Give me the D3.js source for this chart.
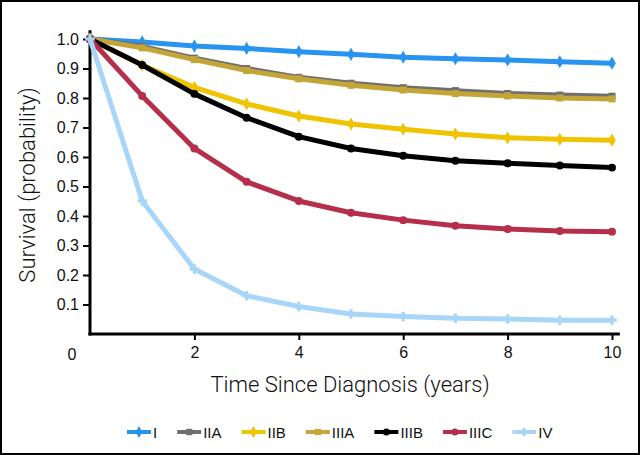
<!DOCTYPE html>
<html>
<head>
<meta charset="utf-8">
<script src="https://cdn.jsdelivr.net/npm/d3@7"></script>
<style>
  body { margin: 0; background: #fff; }
  svg { display: block; font-family: "Liberation Sans", Arial, sans-serif; }
</style>
</head>
<body>
<div id="chart"></div>
<script>
const years = [0, 1, 2, 3, 4, 5, 6, 7, 8, 9, 10];
const stages = ["I", "IIA", "IIB", "IIIA", "IIIB", "IIIC", "IV"];
const stageI = [1.0, 0.99, 0.976, 0.968, 0.957, 0.948, 0.938, 0.933, 0.929, 0.923, 0.918];
const stageIIA = [1.0, 0.975, 0.935, 0.90, 0.87, 0.85, 0.835, 0.825, 0.815, 0.81, 0.806];
const stageIIB = [1.0, 0.912, 0.836, 0.78, 0.739, 0.712, 0.694, 0.678, 0.665, 0.66, 0.657];
const stageIIIA = [1.0, 0.97, 0.93, 0.893, 0.865, 0.843, 0.827, 0.815, 0.807, 0.80, 0.797];
const stageIIIB = [1.0, 0.912, 0.814, 0.733, 0.669, 0.629, 0.604, 0.587, 0.579, 0.571, 0.564];
const stageIIIC = [1.0, 0.807, 0.629, 0.516, 0.451, 0.411, 0.386, 0.367, 0.356, 0.349, 0.347];
const stageIV = [1.0, 0.451, 0.220, 0.130, 0.093, 0.068, 0.059, 0.053, 0.051, 0.047, 0.047];
const yTicks = [0.1, 0.2, 0.3, 0.4, 0.5, 0.6, 0.7, 0.8, 0.9, 1.0];
const xTicks = [2, 4, 6, 8, 10];

const series = [stageI, stageIIA, stageIIB, stageIIIA, stageIIIB, stageIIIC, stageIV];
const colors = ["#2894ef", "#6f6f6f", "#f0c300", "#c3a637", "#000000", "#b52f4b", "#a8d6f8"];
const symbols = [d3.symbolDiamond, d3.symbolSquare, d3.symbolDiamond, d3.symbolSquare,
                 d3.symbolCircle, d3.symbolCircle, d3.symbolCross];

const width = 640, height = 455;

const svg = d3.select("#chart").append("svg")
    .attr("width", width)
    .attr("height", height);

// frame
svg.append("rect")
    .attr("x", 1).attr("y", 1)
    .attr("width", width - 2).attr("height", height - 2)
    .attr("fill", "none").attr("stroke", "#000").attr("stroke-width", 2);

const x = d3.scaleLinear().domain([0, 10]).range([90, 612]);
const y = d3.scaleLinear().domain([0, 1]).range([334, 39]);

// axes
const yAxis = svg.append("g")
    .attr("transform", "translate(90,0)")
    .call(d3.axisLeft(y).tickValues(yTicks).tickFormat(d3.format(".1f")).tickSize(7).tickPadding(4));
const xAxis = svg.append("g")
    .attr("transform", "translate(0,334)")
    .call(d3.axisBottom(x).tickValues(xTicks).tickFormat(d3.format("d")).tickSize(6).tickPadding(7));

[yAxis, xAxis].forEach(g => {
    g.select(".domain").remove();
    g.selectAll(".tick line").attr("stroke", "#000").attr("stroke-width", 2);
    g.selectAll(".tick text").attr("font-size", 16).attr("fill", "#111")
        .attr("font-family", "'Liberation Sans', Arial, sans-serif");
});

svg.append("line")
    .attr("x1", 90).attr("x2", 90)
    .attr("y1", y(1.03)).attr("y2", 335.5)
    .attr("stroke", "#000").attr("stroke-width", 3);
svg.append("line")
    .attr("x1", 88.5).attr("x2", x(10.15))
    .attr("y1", 334).attr("y2", 334)
    .attr("stroke", "#000").attr("stroke-width", 3);

// origin label
svg.append("text")
    .attr("x", 72).attr("y", 360)
    .attr("text-anchor", "middle")
    .attr("font-size", 16).attr("fill", "#111")
    .text("0");

// axis titles
svg.append("text")
    .attr("x", 350).attr("y", 392)
    .attr("text-anchor", "middle")
    .attr("font-family", "Roboto, sans-serif").attr("font-weight", 300)
    .attr("font-size", 22).attr("fill", "#111")
    .text("Time Since Diagnosis (years)");
svg.append("text")
    .attr("transform", "translate(35,185) rotate(-90)")
    .attr("text-anchor", "middle")
    .attr("font-family", "Roboto, sans-serif").attr("font-weight", 300)
    .attr("font-size", 22).attr("fill", "#111")
    .text("Survival (probability)");

// lines
const line = d3.line()
    .x((d, i) => x(years[i]))
    .y(d => y(d));

series.forEach((vals, k) => {
    const g = svg.append("g");
    g.append("path")
        .attr("d", line(vals))
        .attr("fill", "none")
        .attr("stroke", colors[k])
        .attr("stroke-width", 5)
        .attr("stroke-linejoin", "round");
    g.selectAll("path.pt")
        .data(vals)
        .enter().append("path")
        .attr("class", "pt")
        .attr("transform", (d, i) => `translate(${x(years[i])},${y(d)})`)
        .attr("d", d3.symbol().type(symbols[k]).size(50))
        .attr("fill", colors[k]);
});

// legend
const legend = svg.append("g").attr("transform", "translate(0,432)");
let lx = 127;
stages.forEach((s, k) => {
    const item = legend.append("g").attr("transform", `translate(${lx},0)`);
    item.append("line")
        .attr("x1", 0).attr("x2", 24)
        .attr("stroke", colors[k]).attr("stroke-width", 4);
    item.append("path")
        .attr("transform", "translate(12,0)")
        .attr("d", d3.symbol().type(symbols[k]).size(40))
        .attr("fill", colors[k]);
    const t = item.append("text")
        .attr("x", 26).attr("y", 5.5)
        .attr("font-size", 15).attr("fill", "#111")
        .text(s);
    lx += 26 + t.node().getComputedTextLength() + 20;
});
</script>
</body>
</html>
